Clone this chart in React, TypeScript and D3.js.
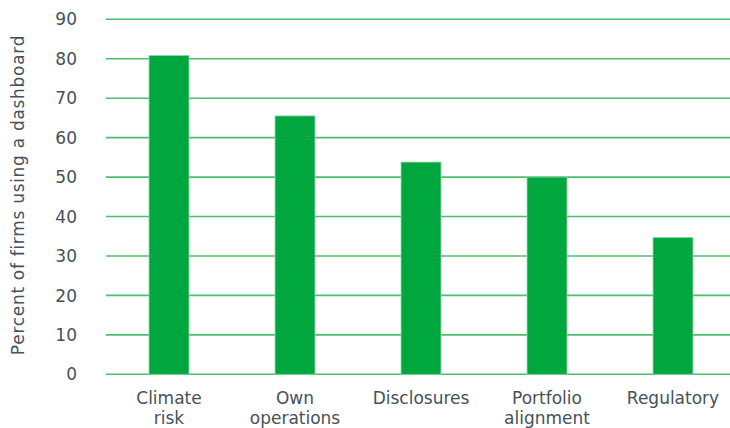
import React from "react";
import * as d3 from "d3";

const categories: string[][] = [
  ["Climate", "risk"],
  ["Own", "operations"],
  ["Disclosures"],
  ["Portfolio", "alignment"],
  ["Regulatory"],
];
const values: number[] = [80.8, 65.5, 53.8, 50.0, 34.7];
const yTicks: number[] = [0, 10, 20, 30, 40, 50, 60, 70, 80, 90];
const yLabel = "Percent of firms using a dashboard";

const W = 730;
const H = 428;
const left = 106;
const right = 736;
const top = 19.3;
const bottom = 374.3;

export default function App() {
  const keys = categories.map((c) => c.join(" "));
  const x = d3
    .scaleBand<string>()
    .domain(keys)
    .range([left, right])
    .paddingInner(0.683)
    .paddingOuter(0.3415);
  const y = d3.scaleLinear().domain([0, 90]).range([bottom, top]);
  const font = "'DejaVu Sans', sans-serif";
  const textColor = "#46515c";
  const grid = "#4cbf6c";
  const bar = "#00a63e";

  return (
    <svg
      width={W}
      height={H}
      style={{ position: "absolute", left: 0, top: 0, background: "#fff" }}
    >
      {yTicks.map((t) => (
        <g key={t}>
          <line x1={left} x2={W} y1={y(t)} y2={y(t)} stroke={grid} strokeWidth={1.6} />
          <text
            x={77}
            y={y(t)}
            dy="0.36em"
            textAnchor="end"
            fontFamily={font}
            fontSize={17}
            fill={textColor}
          >
            {t}
          </text>
        </g>
      ))}
      {values.map((v, i) => (
        <rect
          key={keys[i]}
          x={x(keys[i])!}
          y={y(v)}
          width={x.bandwidth()}
          height={y(0) - y(v)}
          fill={bar}
          stroke="#8fd6a6"
          strokeWidth={0.8}
        />
      ))}
      {categories.map((lines, i) => (
        <text
          key={keys[i]}
          x={x(keys[i])! + x.bandwidth() / 2}
          y={404}
          textAnchor="middle"
          fontFamily={font}
          fontSize={17}
          fill={textColor}
        >
          {lines.map((l, j) => (
            <tspan key={j} x={x(keys[i])! + x.bandwidth() / 2} dy={j === 0 ? 0 : 20}>
              {l}
            </tspan>
          ))}
        </text>
      ))}
      <text
        transform={`translate(24, 195) rotate(-90)`}
        textAnchor="middle"
        fontFamily={font}
        fontSize={17}
        letterSpacing={0.7}
        fill={textColor}
      >
        {yLabel}
      </text>
    </svg>
  );
}
